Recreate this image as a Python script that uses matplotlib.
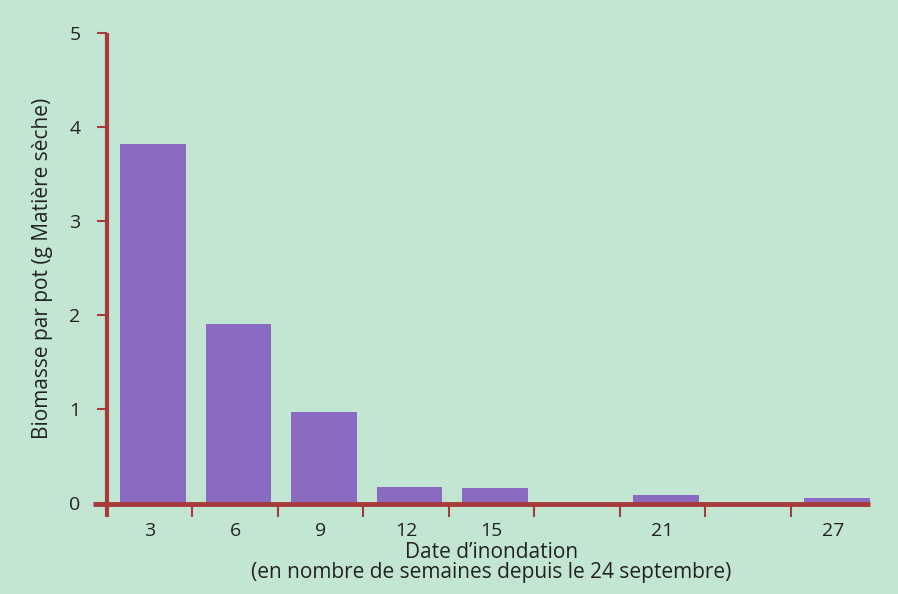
import matplotlib.pyplot as plt
import numpy as np

# semaines depuis le 24 septembre
weeks = [3, 6, 9, 12, 15, 18, 21, 24, 27]
week_labels = ["3", "6", "9", "12", "15", "", "21", "", "27"]
biomass = [3.82, 1.90, 0.97, 0.17, 0.16, 0.0, 0.08, 0.0, 0.05]
y_ticks = [0, 1, 2, 3, 4, 5]

BG = "#c3e6d3"
BAR = "#8a6bc2"
AXIS = "#a83a3c"
TXT = "#222222"

plt.rcParams['font.family'] = ['Open Sans', 'DejaVu Sans']

fig = plt.figure(figsize=(8.98, 5.94), dpi=100, facecolor=BG)
ax = fig.add_axes([107/898, 1 - 503/594, 769/898, 470/594])
ax.set_facecolor(BG)

pos = np.arange(len(weeks))
ax.bar(pos + 0.04, biomass, width=0.77, color=BAR, zorder=2)

ax.set_xlim(-0.5, len(weeks) - 0.5)
ax.set_ylim(0, 5)

for s in ax.spines.values():
    s.set_visible(False)

# axes drawn by hand so they overhang like the original
ax.plot([-0.018, 0.992], [-0.003, -0.003], transform=ax.transAxes,
        color=AXIS, lw=3.5, clip_on=False, zorder=3, solid_capstyle='butt')
ax.plot([0, 0], [-0.03, 1.0], transform=ax.transAxes,
        color=AXIS, lw=3, clip_on=False, zorder=3, solid_capstyle='butt')

ax.set_yticks(y_ticks)
ax.tick_params(axis='y', direction='out', length=7, width=1.5, color=AXIS,
               pad=12, labelsize=14, labelcolor=TXT)

ax.set_xticks(pos)
ax.set_xticklabels(week_labels)
ax.tick_params(axis='x', which='major', length=0, pad=14, labelsize=14,
               labelcolor=TXT)
ax.set_xticks(pos[:-1] + 0.5, minor=True)
ax.tick_params(axis='x', which='minor', direction='out', length=10, width=1.5,
               color=AXIS)

ax.set_ylabel("Biomasse par pot (g Matière sèche)", fontsize=15, color=TXT,
              labelpad=12)
ax.set_xlabel("Date d\u2019inondation\n(en nombre de semaines depuis le 24 septembre)",
              fontsize=15, color=TXT, labelpad=1, linespacing=0.95)

fig.savefig("out.png", dpi=100, facecolor=BG)
